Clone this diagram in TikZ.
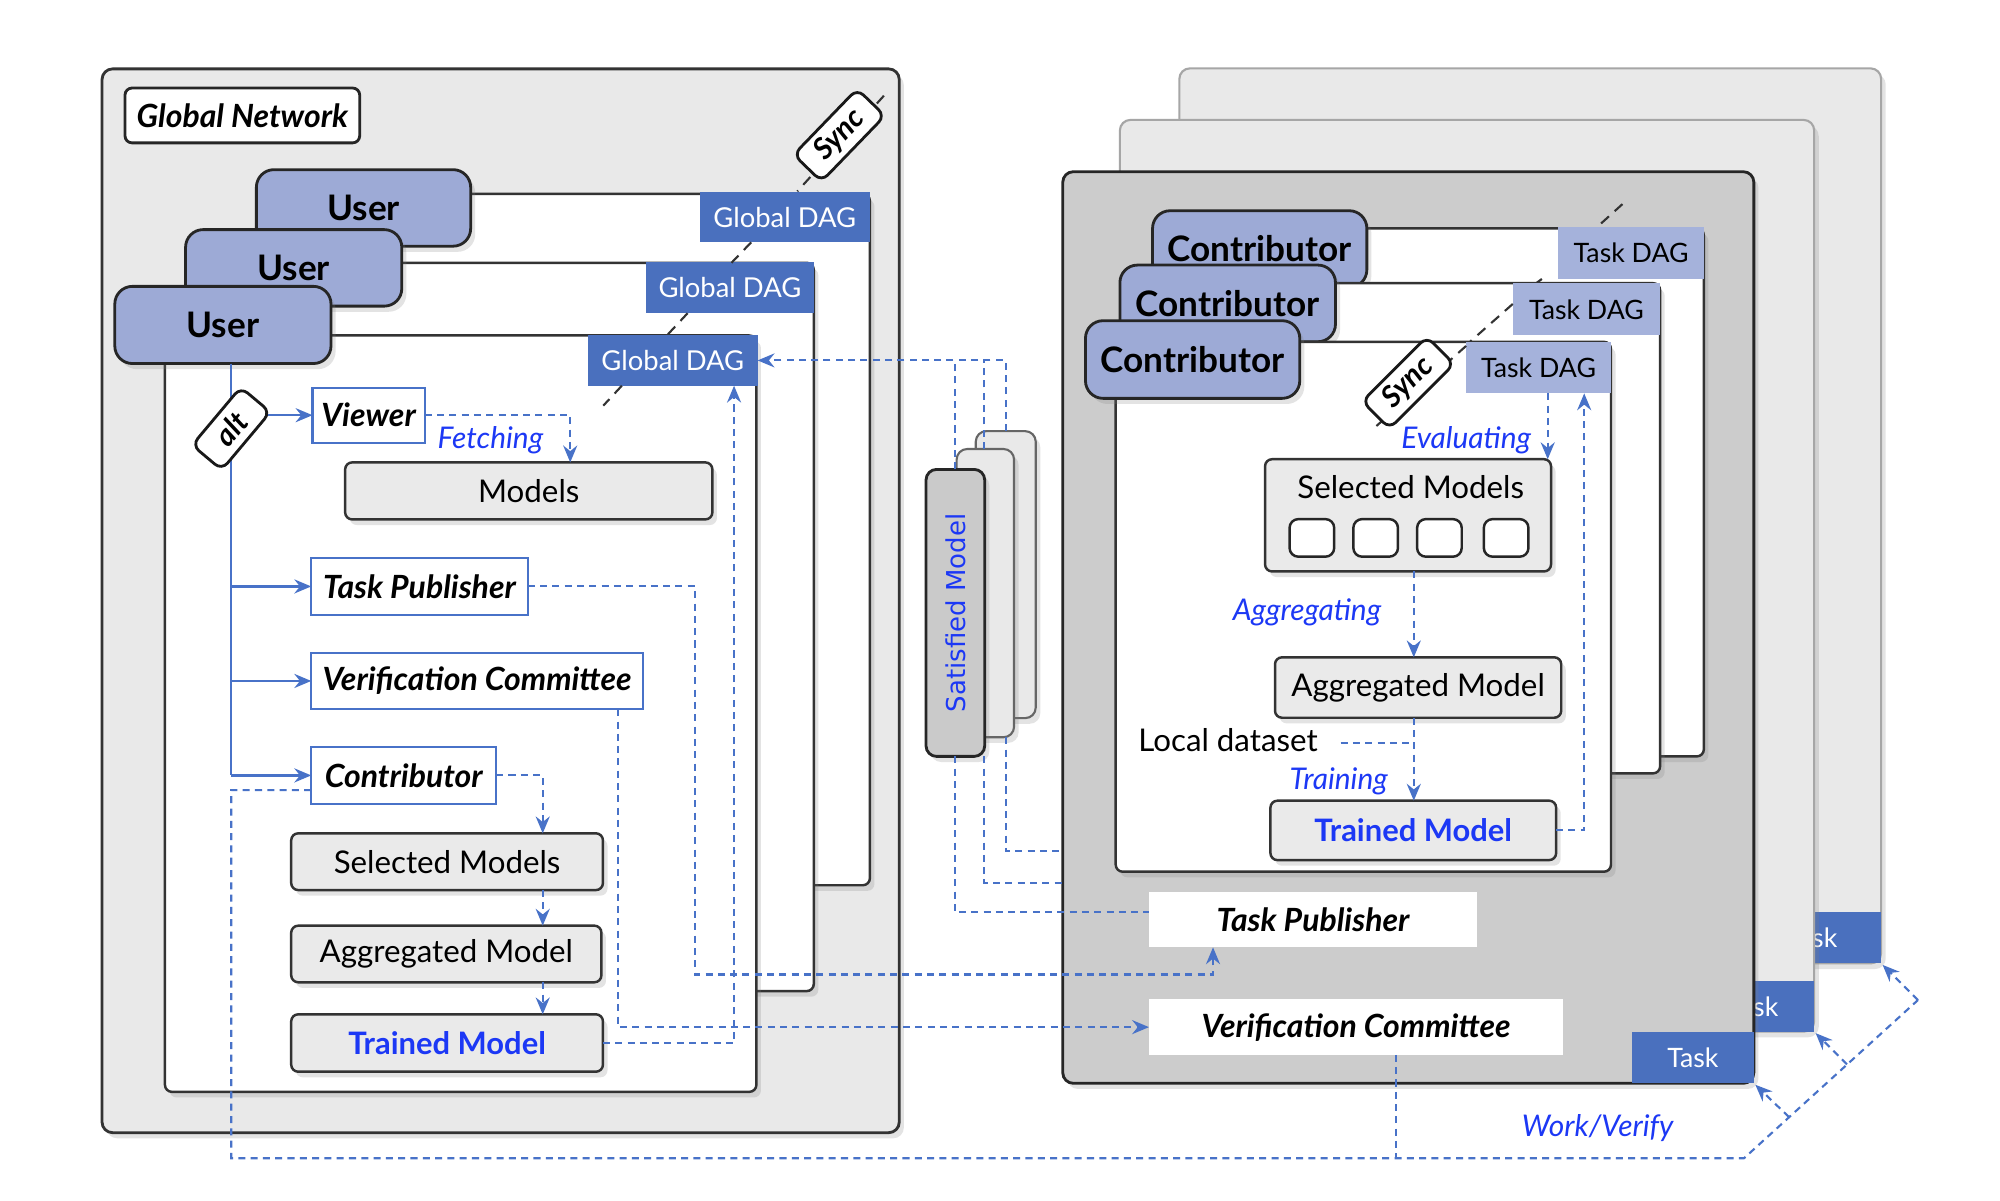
\documentclass[tikz,border=0pt]{standalone}
\usepackage{fontspec}
\setmainfont{Lato}
\newfontfamily\smfont{DejaVu Sans}
\usetikzlibrary{fit,shadows,arrows.meta,calc}
\definecolor{panelgray}{RGB}{233,233,233}
\definecolor{darkpanel}{RGB}{204,204,204}
\definecolor{cardgray}{RGB}{202,202,202}
\definecolor{boxgray}{RGB}{234,234,234}
\definecolor{dagblue}{RGB}{74,112,190}
\definecolor{tabblue}{RGB}{157,170,214}
\definecolor{tdagblue}{RGB}{165,178,219}
\definecolor{linkblue}{RGB}{72,114,200}
\definecolor{txtblue}{RGB}{28,56,245}
\begin{document}
\begin{tikzpicture}[x=0.012755cm,y=-0.012755cm,
  every node/.style={inner sep=0pt, outer sep=0pt},
  shd/.style={drop shadow={shadow xshift=1.3pt,shadow yshift=-1.6pt,opacity=0.22}},
  outerL/.style={fill=panelgray, draw=black!80, line width=0.8pt, rounded corners=3pt, shd},
  pagebox/.style={fill=white, draw=black!80, line width=0.7pt, rounded corners=2pt, shd},
  gdag/.style={fill=dagblue},
  gdagt/.style={text=white, font=\fontsize{7.8}{9}\selectfont},
  tdag/.style={fill=tdagblue},
  tdagt/.style={text=black, font=\fontsize{7.6}{9}\selectfont},
  usertab/.style={fill=tabblue, draw=black!85, line width=0.8pt, rounded corners=5pt, shd},
  tabt/.style={font=\fontsize{10}{12}\selectfont\bfseries},
  rolebox/.style={fill=white, draw=linkblue, line width=0.6pt},
  rolet/.style={font=\fontsize{9.1}{11}\selectfont\bfseries\itshape},
  graybox/.style={fill=boxgray, draw=black!80, line width=0.7pt, rounded corners=2pt, shd},
  plain/.style={font=\fontsize{8.9}{10}\selectfont},
  trained/.style={text=txtblue, font=\fontsize{8.8}{10}\selectfont\bfseries},
  whitebox/.style={fill=white},
  diam/.style={fill=white, draw=black!90, line width=0.8pt, rounded corners=2.5pt, minimum height=11pt, font=\fontsize{8.4}{10}\selectfont\bfseries\itshape},
  syncline/.style={draw=black!80, line width=0.6pt, dash pattern=on 3pt off 2.2pt},
  link/.style={draw=linkblue, line width=0.6pt, dash pattern=on 2pt off 1.5pt},
  flow/.style={draw=linkblue, line width=0.7pt},
  headarrow/.style={-{Stealth[length=4.8pt,width=4pt,inset=1.6pt]}},
  blab/.style={text=txtblue, font=\fontsize{8.5}{10}\selectfont\itshape},
  tasktag/.style={fill=dagblue},
  taskt/.style={text=white, font=\fontsize{7.6}{9}\selectfont},
  backpanel/.style={fill=panelgray, draw=black!35, line width=0.6pt, rounded corners=3pt, shd},
  frontpanel/.style={fill=darkpanel, draw=black!85, line width=0.8pt, rounded corners=3pt, shd},
  card/.style={fill=panelgray, draw=black!60, line width=0.6pt, rounded corners=3pt, shd},
  sq/.style={fill=white, draw=black!85, line width=0.7pt, rounded corners=2.5pt, minimum width=12.7pt, minimum height=10.7pt}
]
\fill[white] (0,0) rectangle (1568,941);
\useasboundingbox (0,0) rectangle (1568,941);

% ================= LEFT: Global Network =================
\node[outerL, fit={(80,54)(705,888)}] (gnet) {};
\node[fill=white, draw=black!85, line width=0.8pt, rounded corners=2pt, fit={(98,69)(282,112)}] (gnlab) {};
\node[rolet] (gnlabt) at (gnlab.center) {Global Network};
\draw[syncline] (693,75) -- (625.1,150);
\node[diam, minimum width=26pt, rotate=46] (syncL) at (658,106) {Sync};

\node[pagebox, fit={(210,152)(682,694)}] (gp3) {};
\node[gdag, fit={(548.5,150.5)(682,190)}] (gd3) {};
\node[gdagt] (gd3t) at (gd3.center) {Global DAG};
\node[usertab, fit={(201,133)(369,193)}] (u3) {};
\node[tabt] (u3t) at (u3.center) {User};
\node[pagebox, fit={(170,206)(638,777)}] (gp2) {};
\node[gdag, fit={(506.5,205.5)(638,245.5)}] (gd2) {};
\node[gdagt] (gd2t) at (gd2.center) {Global DAG};
\node[usertab, fit={(145.5,180)(315,240)}] (u2) {};
\node[tabt] (u2t) at (u2.center) {User};
\node[pagebox, fit={(129.3,263)(593,856)}] (gp1) {};
\node[gdag, fit={(461,262.7)(594,302.4)}] (gd1) {};
\node[gdagt] (gd1t) at (gd1.center) {Global DAG};
\node[usertab, fit={(90,224.5)(259.5,285)}] (u1) {};
\node[tabt] (u1t) at (u1.center) {User};

\draw[syncline] (588.9,190) -- (573.5,206);
\draw[syncline] (539.1,245.5) -- (522.8,263);
\draw[syncline] (487.5,302.4) -- (473,318);

\node[rolebox, fit={(245,304)(333,347)}] (viewer) {};
\node[rolet] (viewert) at (viewer.center) {Viewer};
\node[rolebox, fit={(244,437.5)(413.8,482)}] (tpL) {};
\node[rolet] (tpLt) at (tpL.center) {Task Publisher};
\node[rolebox, fit={(244,511.7)(504,556)}] (vcL) {};
\node[rolet] (vcLt) at (vcL.center) {Verification Committee};
\node[rolebox, fit={(244,585.5)(389,630.3)}] (ctL) {};
\node[rolet] (ctLt) at (ctL.center) {Contributor};
\node[graybox, fit={(270.6,362.5)(558.5,407.2)}] (models) {};
\node[plain] (modelst) at (models.center) {Models};
\node[graybox, fit={(228.3,653.3)(472.7,697.8)}] (smL) {};
\node[plain] (smLt) at (smL.center) {Selected Models};
\node[graybox, fit={(228.3,725.7)(471.5,770.1)}] (amL) {};
\node[plain] (amLt) at (amL.center) {Aggregated Model};
\node[graybox, fit={(228.3,795.2)(472.7,840.2)}] (tmL) {};
\node[trained] (tmLt) at (tmL.center) {Trained Model};

\coordinate (altc) at (181.3,336);
\draw[flow] (altc |- u1.south) -- (altc |- ctL.west);
\draw[flow,headarrow] (altc |- viewer.west) -- (viewer.west);
\draw[flow,headarrow] (altc |- tpL.west) -- (tpL.west);
\draw[flow,headarrow] (altc |- vcL.west) -- (vcL.west);
\draw[flow,headarrow] (altc |- ctL.west) -- (ctL.west);
\node[diam, minimum width=21.5pt, rotate=50] (alt) at (altc) {alt};

\node[blab] (fel) at (384.5,345) {Fetching};

% ================= MIDDLE: Satisfied Model =================
\node[card, fit={(765,338)(812,563)}] (sm3) {};
\node[card, fit={(750,352)(795,578)}] (sm2) {};
\node[card, fill=cardgray, draw=black!85, line width=0.8pt, fit={(726,368)(772,593)}] (sm1) {};
\node[rotate=90, text=txtblue, font=\smfont\fontsize{7.4}{9}\selectfont] (smt) at (sm1.center) {Satisfied Model};

% ================= RIGHT: Tasks =================
\node[backpanel, fit={(924.6,53.6)(1474.8,755.3)}] (tR3) {};
\node[tasktag, fit={(1366,714.7)(1474.8,755.3)}] (task3) {};
\node[taskt] (task3t) at (task3.center) {Task};
\node[backpanel, fit={(878,94)(1422.3,808.8)}] (tR2) {};
\node[tasktag, fit={(1326,769)(1422.3,808.8)}] (task2) {};
\node[taskt] (task2t) at (task2.center) {Task};
\node[frontpanel, fit={(833.2,134.6)(1375,849.3)}] (tR1) {};
\node[tasktag, fit={(1279.5,808.8)(1375,849.3)}] (task1) {};
\node[taskt] (task1t) at (task1.center) {Task};

\draw[syncline] (1272,160) -- (1251,179);
\node[pagebox, fit={(920,179)(1335.8,593)}] (pR3) {};
\node[tdag, fit={(1221.8,178.2)(1335.8,218.7)}] (tdag3) {};
\node[tdagt] (tdag3t) at (tdag3.center) {Task DAG};
\node[usertab, fit={(903.6,165.2)(1071.6,225.3)}] (ctab3) {};
\node[tabt] (ctab3t) at (ctab3.center) {Contributor};
\draw[syncline] (1208.8,218.7) -- (1204.4,222);
\node[pagebox, fit={(890,222)(1301.5,606.3)}] (pR2) {};
\node[tdag, fit={(1186,222)(1301.5,263)}] (tdag2) {};
\node[tdagt] (tdag2t) at (tdag2.center) {Task DAG};
\node[usertab, fit={(878,207.8)(1047,267.9)}] (ctab2) {};
\node[tabt] (ctab2t) at (ctab2.center) {Contributor};
\draw[syncline] (1186,238.3) -- (1152.4,268);
\node[pagebox, fit={(874.7,268)(1263,683.4)}] (pR1) {};
\node[tdag, fit={(1149.4,267.9)(1263,308.4)}] (tdag1) {};
\node[tdagt] (tdag1t) at (tdag1.center) {Task DAG};
\node[usertab, fit={(851,251.4)(1019,312.3)}] (ctab1) {};
\node[tabt] (ctab1t) at (ctab1.center) {Contributor};
\draw[syncline] (1149.4,271.2) -- (1075.7,337);
\node[diam, minimum width=26pt, rotate=45] (syncR) at (1104,300) {Sync};

\node[graybox, fit={(991.8,360)(1216,448)}] (smR) {};
\node[plain] (smRt) at (1106,381.5) {Selected Models};
\node[sq] (sq1) at (1028.5,421.7) {};
\node[sq] (sq2) at (1078.5,421.7) {};
\node[sq] (sq3) at (1128.5,421.7) {};
\node[sq] (sq4) at (1180.8,421.7) {};
\node[graybox, fit={(999.6,515.3)(1224,562.7)}] (amR) {};
\node[plain] (amRt) at (amR.center) {Aggregated Model};
\node[graybox, fit={(996,627.7)(1220,674.3)}] (tmR) {};
\node[trained] (tmRt) at (tmR.center) {Trained Model};
\node[plain] (ld) at (962.8,580) {Local dataset};
\node[blab] (evl) at (1149.5,345.5) {Evaluating};
\node[blab] (agl) at (1024.7,479.8) {Aggregating};
\node[blab] (trl) at (1049.6,612.8) {Training};

\node[whitebox, fit={(900.8,699)(1158,742.7)}] (tpR) {};
\node[rolet] (tpRt) at (tpR.center) {Task Publisher};
\node[whitebox, fit={(900.8,783.5)(1225.5,827)}] (vcR) {};
\node[rolet] (vcRt) at (vcR.center) {Verification Committee};
\node[blab] (wvl) at (1252.6,884.6) {Work/Verify};

% ================= CONNECTORS =================
\draw[link,headarrow] (viewer.east) -| ($(models.north)+(32.5,0)$);
\coordinate (cA) at (425.5,0);
\draw[link,headarrow] (ctL.east) -| (smL.north -| cA);
\draw[link,headarrow] (smL.south -| cA) -- (amL.north -| cA);
\draw[link,headarrow] (amL.south -| cA) -- (tmL.north -| cA);
\coordinate (cB) at (575.5,0);
\draw[link,headarrow] (tmL.east) -| (gd1.south -| cB);
\coordinate (cC) at (545,0);
\coordinate (rC) at (0,764);
\coordinate (cD) at (951,0);
\draw[link,headarrow] (tpL.east) -| (cC |- rC) -| (tpR.south -| cD);
\coordinate (cE) at (484.7,0);
\draw[link,headarrow] (vcL.south -| cE) |- (vcR.west);

\coordinate (rF) at (0,908);
\coordinate (wv0) at (1367.3,908);
\coordinate (wv1) at (1402.6,875.8);
\coordinate (wv2) at (1448,834.5);
\coordinate (wvc) at (1503.7,784);
\draw[link] ($(ctL.west)+(0,11.5)$) -| (altc |- rF) -- (wv0) -- (wvc);
\draw[link,headarrow,shorten >=0.6pt] (wvc) -- (task3.south east);
\draw[link,headarrow,shorten >=0.6pt] (wv2) -- (task2.south east);
\draw[link,headarrow,shorten >=0.6pt] (wv1) -- (task1.south east);
\coordinate (cG) at (1094.7,0);
\draw[link] (vcR.south -| cG) -- (cG |- rF);

\coordinate (cR1) at (1213.4,0);
\draw[link,headarrow] (tdag1.south -| cR1) -- (smR.north -| cR1);
\coordinate (cR2) at (1108.4,0);
\draw[link,headarrow] (smR.south -| cR2) -- (amR.north -| cR2);
\draw[link,headarrow] (amR.south -| cR2) -- (tmR.north -| cR2);
\draw[link] ($(ld.east)+(18,2.7)$) -- ($(ld.east -| cR2)+(0,2.7)$);
\coordinate (cR3) at (1242,0);
\draw[link,headarrow] (tmR.east) -| (tdag1.south -| cR3);

\coordinate (c1) at (748.5,0);
\coordinate (c2) at (771.5,0);
\coordinate (c3) at (788.5,0);
\coordinate (rH) at (0,692);
\coordinate (rI) at (0,667);
\draw[link,headarrow] (sm3.north -| c3) |- (gd1.east);
\draw[link] (sm2.north -| c2) -- (c2 |- gd1.east);
\draw[link] (sm1.north -| c1) -- (c1 |- gd1.east);
\draw[link] (sm1.south -| c1) |- ($(tpR.west)+(0,-5.8)$);
\draw[link] (sm1.south -| c2) |- (tR1.west |- rH);
\draw[link] (sm2.south -| c3) |- (tR1.west |- rI);
\end{tikzpicture}
\end{document}
